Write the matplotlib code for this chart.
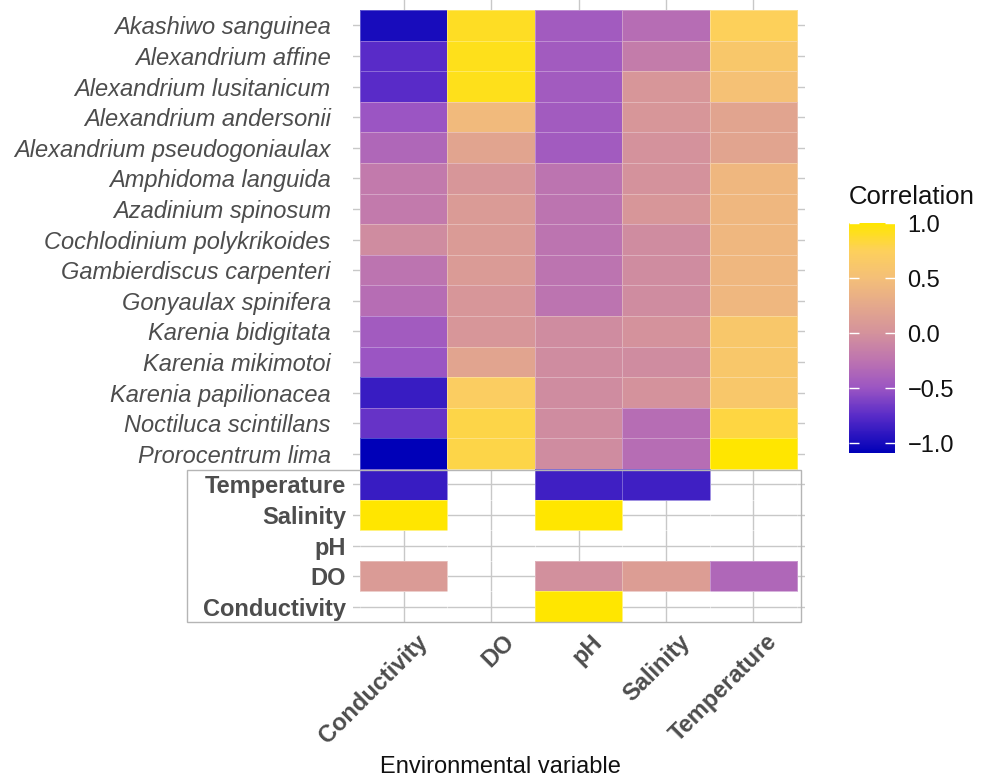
import numpy as np
import matplotlib
matplotlib.use('Agg')
import matplotlib.pyplot as plt
import matplotlib.transforms as mtransforms
from matplotlib.colors import LinearSegmentedColormap, Normalize
from matplotlib.cm import ScalarMappable
from matplotlib.patches import Rectangle

plt.rcParams['font.family'] = ['Liberation Sans', 'DejaVu Sans']

# columns of the heatmap
env_vars = ['Conductivity', 'DO', 'pH', 'Salinity', 'Temperature']

# species rows (top block)
species = ['Akashiwo sanguinea', 'Alexandrium affine', 'Alexandrium lusitanicum',
           'Alexandrium andersonii', 'Alexandrium pseudogoniaulax', 'Amphidoma languida',
           'Azadinium spinosum', 'Cochlodinium polykrikoides', 'Gambierdiscus carpenteri',
           'Gonyaulax spinifera', 'Karenia bidigitata', 'Karenia mikimotoi',
           'Karenia papilionacea', 'Noctiluca scintillans', 'Prorocentrum lima']

# correlation of each species with Conductivity, DO, pH, Salinity, Temperature
species_corr = [
    [-1.00, 0.90, -0.45, -0.30, 0.75],
    [-0.75, 0.92, -0.45, -0.18, 0.62],
    [-0.75, 0.92, -0.45, 0.05, 0.52],
    [-0.50, 0.45, -0.45, 0.05, 0.20],
    [-0.35, 0.20, -0.45, 0.00, 0.20],
    [-0.20, 0.05, -0.25, 0.00, 0.42],
    [-0.20, 0.10, -0.25, 0.05, 0.42],
    [-0.05, 0.10, -0.25, -0.05, 0.42],
    [-0.25, 0.10, -0.25, -0.05, 0.42],
    [-0.30, 0.05, -0.25, -0.05, 0.42],
    [-0.45, 0.05, -0.05, 0.00, 0.62],
    [-0.50, 0.20, -0.05, -0.05, 0.62],
    [-0.87, 0.70, -0.05, 0.00, 0.62],
    [-0.70, 0.80, -0.05, -0.30, 0.82],
    [-1.09, 0.80, -0.05, -0.30, 1.00],
]

# environmental variable rows (bottom block), nan = no tile
env_rows = ['Temperature', 'Salinity', 'pH', 'DO', 'Conductivity']
env_corr = [
    [-0.87, np.nan, -0.85, -0.85, np.nan],
    [1.00, np.nan, 1.00, np.nan, np.nan],
    [np.nan, np.nan, np.nan, np.nan, np.nan],
    [0.10, np.nan, -0.02, 0.12, -0.35],
    [np.nan, np.nan, 1.00, np.nan, np.nan],
]

cbar_ticks = [-1.0, -0.5, 0.0, 0.5, 1.0]
vmin, vmax = -1.09, 1.0

# colour ramp blue -> purple -> pink -> orange -> yellow
anchor_vals = [-1.09, -0.75, -0.5, -0.25, 0.0, 0.25, 0.5, 0.75, 1.0]
anchor_cols = ['#0000B8', '#5A2CC8', '#9B55C3', '#BD74B0', '#D4929C',
               '#E4A88C', '#F4BF78', '#FDD05C', '#FFE600']
cmap = LinearSegmentedColormap.from_list(
    'corr', [((v - vmin) / (vmax - vmin), c) for v, c in zip(anchor_vals, anchor_cols)])
norm = Normalize(vmin=vmin, vmax=vmax)

W, H = 982, 780
fig = plt.figure(figsize=(W / 100, H / 100), dpi=100)


def fig_box(left, top, right, bottom):
    return [left / W, 1 - bottom / H, (right - left) / W, (bottom - top) / H]


ax = fig.add_axes(fig_box(353, 0, 805, 622))

values = np.ma.masked_invalid(np.vstack([np.array(species_corr), np.array(env_corr)]))
n_rows, n_cols = values.shape
ax.pcolormesh(np.arange(n_cols + 1) - 0.5, np.arange(n_rows + 1) - 0.5, values,
              cmap=cmap, norm=norm, edgecolors=(1, 1, 1, 0.3), linewidth=0.6, zorder=2)

ax.set_xlim(-0.58, 4.59)
ax.set_ylim(19.5, -0.83)
ax.set_axisbelow(True)
ax.grid(color='#C8C8C8', linewidth=1, zorder=0)
for s in ax.spines.values():
    s.set_visible(False)

# y labels: italic species, bold environmental variables
ax.set_yticks(range(n_rows), labels=species + env_rows)
ax.tick_params(axis='y', length=0, pad=16, labelsize=17, labelcolor='#4D4D4D')
shift = mtransforms.ScaledTranslation(15 / 100, 0, fig.dpi_scale_trans)
for i, lbl in enumerate(ax.get_yticklabels()):
    if i < len(species):
        lbl.set_fontstyle('italic')
    else:
        lbl.set_fontweight('bold')
        lbl.set_transform(lbl.get_transform() + shift)

# x labels rotated 45 degrees
ax.set_xticks(range(n_cols), labels=env_vars)
ax.tick_params(axis='x', length=0, pad=6, labelsize=17, labelcolor='#4D4D4D')
xshift = mtransforms.ScaledTranslation(12 / 100, 0, fig.dpi_scale_trans)
for lbl in ax.get_xticklabels():
    lbl.set_rotation(45)
    lbl.set_ha('right')
    lbl.set_va('top')
    lbl.set_rotation_mode('anchor')
    lbl.set_fontweight('bold')
    lbl.set_transform(lbl.get_transform() + xshift)

# border of the lower block
fig.patches.append(Rectangle((187 / W, 1 - 622 / H), (801 - 187) / W, 152 / H,
                             transform=fig.transFigure, fill=False,
                             edgecolor='#B5B5B5', linewidth=1))

fig.text(500 / W, 1 - 767 / H, 'Environmental variable', ha='center', va='center',
         fontsize=17, color='#111111')

# colour bar
cax = fig.add_axes(fig_box(849, 223, 895, 453))
cb = fig.colorbar(ScalarMappable(norm=norm, cmap=cmap), cax=cax, ticks=cbar_ticks)
cb.outline.set_visible(False)
cax.tick_params(direction='in', length=7, width=1, color='white', left=True, right=True,
                labelsize=17, labelcolor='#111111', pad=9)
fig.text(849 / W, 1 - 197 / H, 'Correlation', ha='left', va='center', fontsize=18.5,
         color='#111111')

fig.savefig('out.png', dpi=100)
